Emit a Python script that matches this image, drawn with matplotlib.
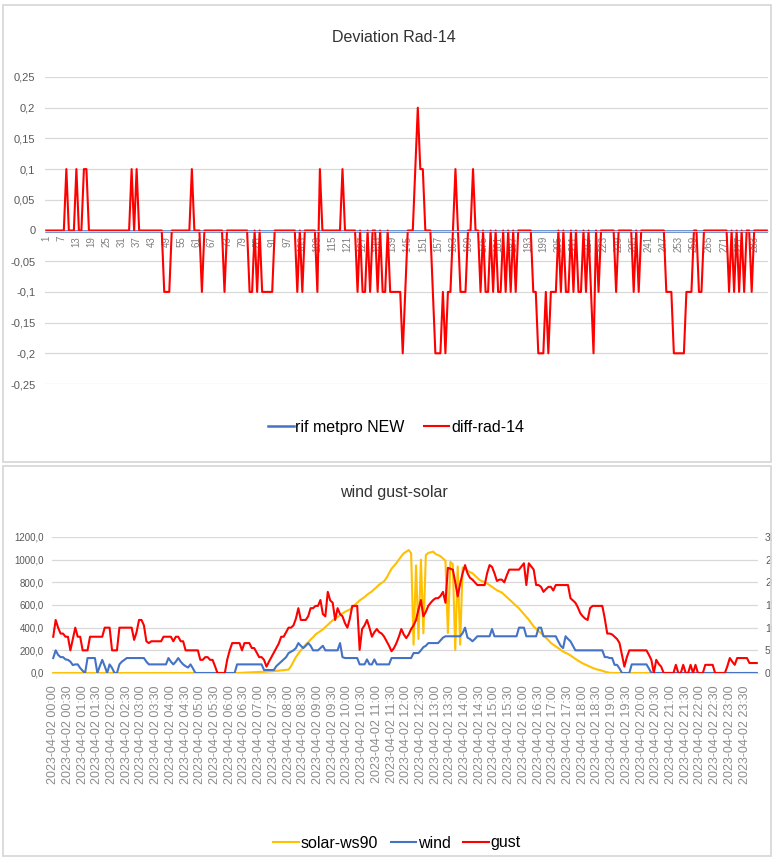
import numpy as np
import matplotlib
matplotlib.use("Agg")
from matplotlib import pyplot as plt
from matplotlib.patches import Rectangle

plt.rcParams['font.family'] = ['Liberation Sans', 'DejaVu Sans']

# ---------------- data: top chart (288 records) ----------------
rif_metpro_new = [0.0] * 288

diff_rad_14 = [
    0, 0, 0, 0, 0, 0, 0, 0, .1, 0, 0, 0, .1, 0, 0, .1, .1, 0, 0, 0, 0, 0, 0, 0,
    0, 0, 0, 0, 0, 0, 0, 0, 0, 0, .1, 0, .1, 0, 0, 0, 0, 0, 0, 0, 0, 0, 0, -.1,
    -.1, -.1, 0, 0, 0, 0, 0, 0, 0, 0, .1, 0, 0, 0, -.1, 0, 0, 0, 0, 0, 0, 0, 0, -.1,
    0, 0, 0, 0, 0, 0, 0, 0, 0, -.1, -.1, 0, -.1, 0, -.1, -.1, -.1, -.1, -.1, 0, 0, 0, 0, 0,
    0, 0, 0, 0, -.1, 0, -.1, 0, 0, 0, 0, 0, -.1, .1, 0, 0, 0, 0, 0, 0, 0, 0, .1, 0,
    0, 0, 0, 0, -.1, 0, -.1, -.1, 0, -.1, 0, 0, -.1, 0, -.1, -.1, 0, -.1, -.1, -.1, -.1, -.1, -.2, -.1,
    0, 0, 0, .1, .2, .1, .1, 0, 0, 0, -.1, -.2, -.2, -.2, -.1, -.2, -.1, -.1, 0, .1, 0, -.1, -.1, -.1,
    0, 0, .1, 0, 0, -.1, 0, -.1, -.1, 0, -.1, 0, -.1, -.1, 0, -.1, 0, -.1, 0, -.1, 0, 0, 0, 0,
    0, 0, -.1, -.1, -.2, -.2, -.2, -.1, -.2, -.1, -.1, -.1, 0, -.1, 0, -.1, -.1, 0, -.1, 0, -.1, -.1, 0, -.1,
    0, -.1, -.2, 0, -.1, 0, 0, 0, 0, 0, 0, -.1, 0, 0, 0, 0, 0, 0, -.1, 0, -.1, 0, 0, 0,
    0, 0, 0, 0, 0, 0, 0, -.1, -.1, -.1, -.2, -.2, -.2, -.2, -.2, -.1, -.1, -.1, 0, 0, -.1, -.1, 0, 0,
    0, 0, 0, 0, 0, 0, 0, 0, -.1, 0, -.1, 0, -.1, 0, -.1, 0, 0, -.1, 0, 0, 0, 0, 0, 0,
]
record_labels = [str(i) for i in range(1, 289, 6)]
dev_ticks = [-0.25, -0.2, -0.15, -0.1, -0.05, 0, 0.05, 0.1, 0.15, 0.2, 0.25]
dev_tick_labels = ['-0,25', '-0,2', '-0,15', '-0,1', '-0,05', '0', '0,05', '0,1', '0,15', '0,2', '0,25']

# ---------------- data: bottom chart (5-minute steps) ----------------
solar_ws90 = [
    0, 0, 0, 0, 0, 0, 0, 0, 0, 0, 0, 0,
    0, 0, 0, 0, 0, 0, 0, 0, 0, 0, 0, 0,
    0, 0, 0, 0, 0, 0, 0, 0, 0, 0, 0, 0,
    0, 0, 0, 0, 0, 0, 0, 0, 0, 0, 0, 0,
    0, 0, 0, 0, 0, 0, 0, 0, 0, 0, 0, 0,
    0, 0, 0, 0, 0, 0, 0, 0, 0, 0, 0, 0,
    0, 0, 0, 0, 0, 2, 3, 4, 5, 6, 7, 8,
    9, 10, 10, 12, 14, 15, 17, 19, 21, 23, 25, 28,
    30, 60, 100, 140, 170, 200, 225, 250, 270, 295, 315, 340,
    355, 370, 385, 405, 425, 445, 465, 480, 495, 510, 525, 540,
    550, 560, 580, 600, 620, 640, 655, 670, 690, 705, 720, 740,
    760, 780, 795, 810, 840, 880, 920, 945, 970, 1000, 1030, 1056,
    1070, 1085, 1056, 250, 950, 300, 1000, 350, 1040, 1059, 1065, 1071,
    1050, 1040, 1030, 1010, 990, 353, 980, 960, 203, 940, 250, 930,
    920, 900, 890, 880, 860, 840, 820, 810, 800, 790, 775, 760,
    745, 730, 720, 710, 690, 670, 650, 630, 610, 590, 570, 545,
    520, 495, 470, 440, 410, 390, 370, 350, 330, 310, 290, 265,
    250, 235, 220, 205, 190, 178, 168, 155, 140, 125, 110, 97,
    85, 75, 65, 55, 45, 38, 30, 26, 20, 12, 6, 2,
    0, 0, 0, 0, 0, 0, 0, 0, 0, 0, 0, 0,
    0, 0, 0, 0, 0, 0, 0, 0, 0, 0, 0, 0,
    0, 0, 0, 0, 0, 0, 0, 0, 0, 0, 0, 0,
    0, 0, 0, 0, 0, 0, 0, 0, 0, 0, 0, 0,
    0, 0, 0, 0, 0, 0, 0, 0, 0, 0, 0, 0,
]
wind = [
    3.3, 5, 4, 3.5, 3.5, 3, 2.9, 2.5, 1.75, 1.9, 1.9, 1.1,
    0.5, 0, 3.3, 3.3, 3.3, 3.3, 0, 1.5, 2.9, 1.5, 0, 1.9,
    1.1, 0, 0, 1.9, 2.5, 2.9, 3.3, 3.3, 3.3, 3.3, 3.3, 3.3,
    3.3, 3.3, 2.5, 1.9, 1.9, 1.9, 1.9, 1.9, 1.9, 1.9, 1.9, 3.3,
    2.5, 1.9, 2.5, 3.3, 2.5, 1.9, 1.5, 1.2, 1.9, 1, 0, 0,
    0, 0, 0, 0, 0, 0, 0, 0, 0, 0, 0, 0,
    0, 0, 0, 1.9, 1.9, 1.9, 1.9, 1.9, 1.9, 1.9, 1.9, 1.9,
    1.9, 1.9, 0.66, 0.66, 0.66, 0.66, 0.66, 1.5, 2, 2.5, 3, 3.5,
    4.4, 4.7, 5, 5.5, 6.6, 6, 5.5, 6, 6.6, 6, 5, 5,
    5, 5.5, 6, 5, 5, 5, 5, 5, 5, 6.6, 3.5, 3.3,
    3.3, 3.3, 3.3, 3.3, 3.3, 1.9, 1.9, 1.9, 3, 1.9, 1.9, 3,
    1.9, 1.9, 1.9, 1.9, 1.9, 1.9, 3.3, 3.3, 3.3, 3.3, 3.3, 3.3,
    3.3, 3.3, 3.3, 4.4, 4.4, 4.4, 5, 5.7, 6, 6.6, 6.6, 6.6,
    6.6, 6.6, 7.2, 7.8, 8.1, 8.1, 8.1, 8.1, 8.1, 8.1, 8.1, 8.8,
    10, 7.8, 7.5, 7, 7.5, 8.1, 8.1, 8.1, 8.1, 8.1, 8.1, 9.7,
    8.1, 8.1, 8.1, 8.1, 8.1, 8.1, 8.1, 8.1, 8.1, 8.1, 10, 10,
    10, 8.1, 8.1, 8.1, 8.1, 8.1, 10, 10, 8.1, 8.1, 8.1, 8.1,
    8.1, 8.1, 7, 6, 5.5, 8.1, 7.5, 7, 6, 5, 5, 5,
    5, 5, 5, 5, 5, 5, 5, 5, 5, 3.5, 3.5, 3.3,
    3.3, 1.8, 1.8, 1, 0, 0, 0, 0, 1.9, 1.9, 1.9, 1.9,
    1.9, 1.9, 1.9, 1, 0, 0, 0, 0, 0, 0, 0, 0,
    0, 0, 0, 0, 0, 0, 0, 0, 0, 0, 0, 0,
    0, 0, 0, 0, 0, 0, 0, 0, 0, 0, 0, 0,
    0, 0, 0, 0, 0, 0, 0, 0, 0, 0, 0, 0,
]
gust = [
    8, 11.7, 10, 8.7, 8.7, 8, 8, 5, 7.5, 10, 8, 8,
    5, 5, 5, 8, 8, 8, 8, 8, 8, 10, 10, 10,
    5, 5, 5, 10, 10, 10, 10, 10, 10, 7.3, 9, 11.7,
    11.7, 10.5, 7, 6.6, 7, 7, 7, 7, 7, 8, 8, 8,
    8, 7, 8, 8, 7, 7, 5, 5, 5, 5, 5, 5,
    2.9, 2.9, 3.5, 3.5, 2.9, 2.9, 1.5, 0, 0, 0, 0, 3,
    5, 6.6, 6.6, 6.6, 6.6, 5, 6.6, 6.6, 6.6, 5.5, 5.5, 4.5,
    3.5, 3.5, 2.9, 1.4, 2.5, 3.5, 4.5, 5.5, 6.5, 8, 8, 9,
    10, 10, 10.5, 12, 14.3, 11.7, 11.7, 11.7, 12.5, 14.3, 14.3, 14.8,
    14.8, 16.1, 13, 12.5, 17.9, 16, 15.5, 11.7, 14.3, 13, 12.5, 11,
    10, 12, 14.8, 14.8, 14.8, 5.1, 9.7, 10.5, 11.7, 10, 8, 9,
    9.7, 9, 8.7, 8, 7, 6, 4.8, 5.5, 6.6, 8, 9.7, 8.5,
    7.7, 8.5, 9.7, 10.5, 11.7, 14, 16.1, 12.5, 13.5, 14.8, 15.5, 16.1,
    16.5, 16.5, 17, 17.9, 15.5, 23.2, 23, 22.8, 20, 16.9, 19.7, 22,
    23.8, 22, 21, 20.6, 20, 19.4, 19.4, 19.4, 19.4, 22, 23.8, 23.4,
    22, 20.3, 20.6, 20.6, 20, 21.5, 22.8, 22.8, 22.8, 22.8, 22.8, 23.5,
    24.2, 19.4, 24.2, 23.5, 22.8, 19.4, 19.4, 19, 17.9, 18.5, 19, 19,
    18.2, 19.4, 19.4, 19.4, 19.4, 19.4, 19.4, 16.5, 16, 15.5, 14.5, 13.2,
    12.5, 12, 11.7, 14.3, 14.8, 14.8, 14.8, 14.8, 14.8, 12, 8.7, 8.7,
    8.5, 8, 7.5, 6.6, 4, 1.4, 3.5, 5, 5, 5, 5, 5,
    5, 5, 5, 4, 2.9, 0, 2.9, 2, 1.4, 0, 0, 0,
    0, 0, 1.8, 0, 0, 1.8, 0, 0, 1.8, 0, 1.8, 0,
    0, 0, 1.8, 1.8, 1.8, 1.8, 0, 0, 0, 0, 0, 1.5,
    3.3, 2.5, 1.8, 3.3, 3.3, 3.3, 3.3, 3.3, 2.2, 2.2, 2.2, 2.2,
]
time_labels = [f"2023-04-02 {h:02d}:{m:02d}" for h in range(24) for m in (0, 30)]
solar_ticks = [0, 200, 400, 600, 800, 1000, 1200]
solar_tick_labels = ['0,0', '200,0', '400,0', '600,0', '800,0', '1000,0', '1200,0']
wind_ticks = [0, 5, 10, 15, 20, 25, 30]

# ---------------- style ----------------
W, H = 772, 857
GRID = '#d9d9d9'
TXT = '#595959'
BLUE = '#4472C4'
RED = '#FF0000'
YELLOW = '#FFC000'

fig = plt.figure(figsize=(W / 100, H / 100), dpi=100)


def px_axes(left, top, right, bottom):
    return fig.add_axes([left / W, 1 - bottom / H, (right - left) / W, (bottom - top) / H])


def fx(v):
    return v / W


def fy(v):
    return 1 - v / H


# chart area borders
for l, t, r, b in [(3, 5, 771, 462), (3, 466, 771, 856)]:
    fig.patches.append(Rectangle((fx(l), fy(b)), (r - l) / W, (b - t) / H,
                                 transform=fig.transFigure, fill=False, ec=GRID, lw=1.3))

# ---------------- top chart ----------------
x = np.arange(288)
ax1 = px_axes(45, 77, 768, 384)
ax1.plot(x, rif_metpro_new, color=BLUE, lw=1.8, label='rif metpro NEW')
ax1.plot(x, diff_rad_14, color=RED, lw=1.5, label='diff-rad-14')
ax1.set_xlim(-0.5, 287.5)
ax1.set_ylim(-0.25, 0.25)
ax1.set_yticks(dev_ticks)
ax1.set_yticklabels(dev_tick_labels)
ax1.yaxis.grid(True, color=GRID, lw=0.9)
ax1.set_axisbelow(True)
for s in ['top', 'right', 'left']:
    ax1.spines[s].set_visible(False)
ax1.spines['bottom'].set_position(('data', 0))
ax1.spines['bottom'].set_color(GRID)
ax1.set_xticks(x[::6])
ax1.set_xticklabels(record_labels, rotation=90)
ax1.tick_params(length=0)
ax1.tick_params(axis='x', labelsize=7, labelcolor='#7f7f7f', pad=4)
ax1.tick_params(axis='y', labelsize=8, labelcolor=TXT, pad=7)

fig.text(fx(394), fy(37), 'Deviation Rad-14', ha='center', va='center', fontsize=11.5, color='#333333')
h1, l1 = ax1.get_legend_handles_labels()
fig.legend(h1, l1, loc='center', bbox_to_anchor=(fx(396), fy(427)), ncol=2, frameon=False,
           fontsize=11.5, handlelength=1.6, handletextpad=0.1, columnspacing=1.2)

# ---------------- bottom chart ----------------
ax2 = px_axes(52, 537, 758, 673)
ax2.plot(x, solar_ws90, color=YELLOW, lw=1.5, label='solar-ws90')
ax2.set_xlim(-0.5, 287.5)
ax2.set_ylim(0, 1200)
ax2.set_yticks(solar_ticks)
ax2.set_yticklabels(solar_tick_labels)
ax2.yaxis.grid(True, color=GRID, lw=0.9)
ax2.set_axisbelow(True)
for s in ['top', 'right', 'left']:
    ax2.spines[s].set_visible(False)
ax2.spines['bottom'].set_color(GRID)
ax2.set_xticks(x[::6])
ax2.set_xticklabels(time_labels, rotation=90)
ax2.tick_params(length=0)
ax2.tick_params(axis='x', labelsize=9, labelcolor='#8c8c8c', pad=9)
ax2.tick_params(axis='y', labelsize=7, labelcolor=TXT, pad=6)

ax3 = ax2.twinx()
ax3.plot(x, wind, color=BLUE, lw=1.5, label='wind')
ax3.plot(x, gust, color=RED, lw=1.5, label='gust')
ax3.set_ylim(0, 30)
ax3.set_yticks(wind_ticks)
for s in ['top', 'right', 'left', 'bottom']:
    ax3.spines[s].set_visible(False)
ax3.tick_params(length=0, labelsize=7.5, labelcolor=TXT, pad=5)

fig.text(fx(394), fy(493), 'wind gust-solar', ha='center', va='center', fontsize=11.5, color='#333333')
h2, l2 = ax2.get_legend_handles_labels()
h3, l3 = ax3.get_legend_handles_labels()
fig.legend(h2 + h3, l2 + l3, loc='center', bbox_to_anchor=(fx(397), fy(843)), ncol=3, frameon=False,
           fontsize=11.5, handlelength=1.6, handletextpad=0.1, columnspacing=0.8)

fig.savefig('out.png', dpi=100)
